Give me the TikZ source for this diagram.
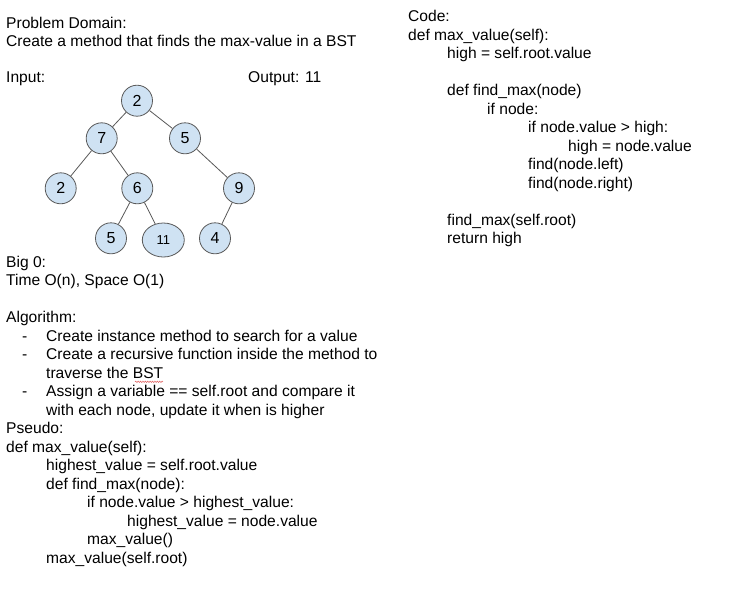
\documentclass[tikz,border=0pt]{standalone}
\usepackage{fontspec}
\setmainfont{Liberation Sans}
\usetikzlibrary{shapes.geometric,decorations.pathmorphing}
\definecolor{nodefill}{HTML}{CFE2F3}
\definecolor{nodeline}{HTML}{595959}
\definecolor{spellred}{HTML}{E06060}
\newcommand\mainfs{\fontsize{15.6}{18.5}\selectfont}
\begin{document}
\begin{tikzpicture}[x=1pt,y=-1pt,
  txt/.style={anchor=base west,inner sep=0pt,font=\mainfs},
  bst/.style={circle,draw=nodeline,fill=nodefill,line width=0.8pt,minimum size=31pt,inner sep=0pt,font=\fontsize{16}{18}\selectfont},
  bstwide/.style={ellipse,draw=nodeline,fill=nodefill,line width=0.8pt,minimum width=42pt,minimum height=34pt,inner sep=0pt,font=\fontsize{13}{15}\selectfont},
  edge/.style={draw=nodeline,line width=0.8pt}]
\useasboundingbox[fill=white] (0,0) rectangle (735,595);

% tree
\node[bst] (n2) at (137,100.7) {2};
\node[bst] (n7) at (101.7,138.3) {7};
\node[bst] (n5) at (185,138.3) {5};
\node[bst] (n2b) at (60.7,188.3) {2};
\node[bst] (n6) at (137.3,188.3) {6};
\node[bst] (n9) at (239,188.3) {9};
\node[bst] (n5b) at (111,238.3) {5};
\node[bstwide] (n11) at (163.3,240) {11};
\node[bst] (n4) at (215,238.3) {4};
\draw[edge] (n2) -- (n7);
\draw[edge] (n2) -- (n5);
\draw[edge] (n7) -- (n2b);
\draw[edge] (n7) -- (n6);
\draw[edge] (n5) -- (n9);
\draw[edge] (n6) -- (n5b);
\draw[edge] (n6) -- (n11);
\draw[edge] (n9) -- (n4);

% left column
\node[txt] (l1) at (6,28.3) {Problem Domain:};
\node[txt] (l2) at (6,46.8) {Create a method that finds the max-value in a BST};
\node[txt] (l3) at (6,82.7) {Input:};
\node[txt] (l4) at (248,82.7) {Output: 11};
\node[txt] (l5) at (6,267.2) {Big 0:};
\node[txt] (l6) at (6,285.7) {Time O(n), Space O(1)};
\node[txt] (l7) at (6,322.7) {Algorithm:};
\node[txt] (b1) at (22,341.2) {-};
\node[txt] (l8) at (46,341.2) {Create instance method to search for a value};
\node[txt] (b2) at (22,359.7) {-};
\node[txt] (l9) at (46,359.7) {Create a recursive function inside the method to};
\node[txt] (l10) at (46,378.2) {traverse the BST};
\node[txt] (b3) at (22,396.7) {-};
\node[txt] (l11) at (46,396.7) {Assign a variable == self.root and compare it};
\node[txt] (l12) at (46,415.2) {with each node, update it when is higher};
\node[txt] (l13) at (6,433.7) {Pseudo:};
\node[txt] (l14) at (6,452.2) {def max\_value(self):};
\node[txt] (l15) at (46,470.7) {highest\_value = self.root.value};
\node[txt] (l16) at (46,489.2) {def find\_max(node):};
\node[txt] (l17) at (87,507.7) {if node.value > highest\_value:};
\node[txt] (l18) at (127,526.2) {highest\_value = node.value};
\node[txt] (l19) at (87,544.7) {max\_value()};
\node[txt] (l20) at (46,563.2) {max\_value(self.root)};

% spell-check squiggle
\draw[spellred,line width=0.5pt,decorate,decoration={snake,amplitude=0.7pt,segment length=2.4pt}] (135,381.8) -- (163,381.8);

% right column
\node[txt] (r0) at (408,21.7) {Code:};
\node[txt] (r1) at (408,40.2) {def max\_value(self):};
\node[txt] (r2) at (447,58.7) {high = self.root.value};
\node[txt] (r4) at (447,95.7) {def find\_max(node)};
\node[txt] (r5) at (487,114.2) {if node:};
\node[txt] (r6) at (528,132.7) {if node.value > high:};
\node[txt] (r7) at (568,151.2) {high = node.value};
\node[txt] (r8) at (528,169.7) {find(node.left)};
\node[txt] (r9) at (528,188.2) {find(node.right)};
\node[txt] (r11) at (447,225.2) {find\_max(self.root)};
\node[txt] (r12) at (447,243.7) {return high};
\end{tikzpicture}
\end{document}
